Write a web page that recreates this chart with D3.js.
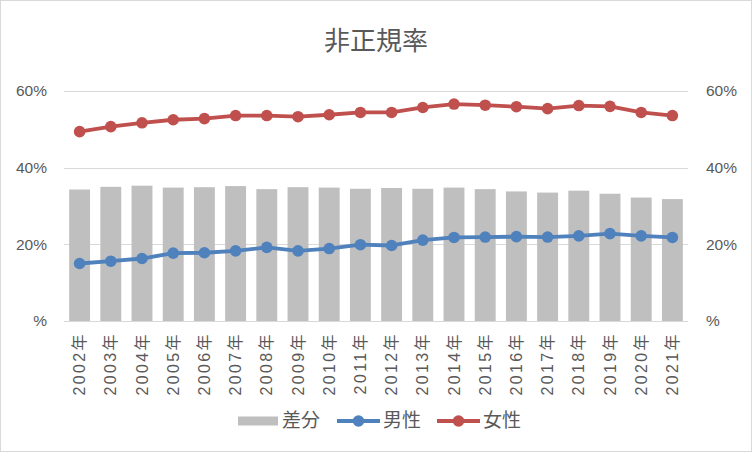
<!DOCTYPE html>
<html>
<head>
<meta charset="utf-8">
<script src="https://cdn.jsdelivr.net/npm/d3@7"></script>
<style>
  body { margin: 0; background: #fff; }
  svg { display: block; font-family: "Noto Sans CJK JP", "DejaVu Sans", sans-serif; }
</style>
</head>
<body>
<script>
const years = ["2002年","2003年","2004年","2005年","2006年","2007年","2008年","2009年","2010年","2011年",
  "2012年","2013年","2014年","2015年","2016年","2017年","2018年","2019年","2020年","2021年"];
const male = [15.0,15.6,16.3,17.7,17.8,18.3,19.2,18.3,18.9,19.9,19.7,21.1,21.8,21.9,22.0,21.9,22.2,22.8,22.2,21.8];
const female = [49.4,50.7,51.7,52.5,52.8,53.6,53.6,53.3,53.8,54.4,54.4,55.7,56.6,56.3,55.9,55.4,56.2,56.0,54.4,53.6];
const diff = [34.3,35.0,35.3,34.8,34.9,35.2,34.4,34.9,34.8,34.5,34.7,34.5,34.8,34.4,33.8,33.5,34.0,33.2,32.2,31.8];
const yTicks = [0, 20, 40, 60];

const width = 752, height = 452;
const margin = { top: 91, right: 64, bottom: 131, left: 64 };
const textColor = "#595959";

const svg = d3.select("body").append("svg")
    .attr("width", width)
    .attr("height", height);

svg.append("rect")
    .attr("x", 0.5).attr("y", 0.5)
    .attr("width", width - 1).attr("height", height - 1)
    .attr("fill", "#fff")
    .attr("stroke", "#d9d9d9");

const x = d3.scaleBand()
    .domain(years)
    .range([margin.left, width - margin.right])
    .paddingInner(0.33)
    .paddingOuter(0.165);

const y = d3.scaleLinear()
    .domain([0, 60])
    .range([height - margin.bottom, margin.top]);

const fmt = d => d === 0 ? "%" : d + "%";

// gridlines
svg.append("g")
    .selectAll("line")
    .data(yTicks)
    .join("line")
    .attr("x1", margin.left)
    .attr("x2", width - margin.right)
    .attr("y1", d => Math.round(y(d)) + 0.5)
    .attr("y2", d => Math.round(y(d)) + 0.5)
    .attr("stroke", "#d9d9d9")
    .attr("stroke-width", 1);

// left / right axes
const axisL = svg.append("g")
    .attr("transform", `translate(${margin.left - 17},0)`)
    .call(d3.axisLeft(y).tickValues(yTicks).tickFormat(fmt).tickSize(0).tickPadding(0));
const axisR = svg.append("g")
    .attr("transform", `translate(${width - margin.right + 18},0)`)
    .call(d3.axisRight(y).tickValues(yTicks).tickFormat(fmt).tickSize(0).tickPadding(0));
[axisL, axisR].forEach(a => {
    a.select(".domain").remove();
    a.selectAll("text")
        .attr("fill", textColor)
        .style("font-size", "15.5px")
        .style("font-family", "Arial, 'Liberation Sans', sans-serif");
});

// bars
svg.append("g")
    .selectAll("rect")
    .data(diff)
    .join("rect")
    .attr("x", (d, i) => x(years[i]))
    .attr("width", x.bandwidth())
    .attr("y", d => y(d))
    .attr("height", d => y(0) - y(d))
    .attr("fill", "#bfbfbf");

// x labels
svg.append("g")
    .attr("transform", `translate(0,${height - margin.bottom})`)
    .call(d3.axisBottom(x).tickSize(0))
    .call(g => g.select(".domain").remove())
    .selectAll("text")
    .attr("transform", "rotate(-90)")
    .attr("text-anchor", "end")
    .attr("x", -11)
    .attr("y", 0)
    .attr("dy", "0.35em")
    .attr("fill", textColor)
    .style("font-size", "16px")
    .style("letter-spacing", "2.4px")
    .style("font-family", "Arial, 'Liberation Sans', 'Noto Sans CJK JP', sans-serif");

const cx = i => x(years[i]) + x.bandwidth() / 2;
const line = d3.line().x((d, i) => cx(i)).y(d => y(d));

const series = [
    { name: "男性", values: male, color: "#4f81bd" },
    { name: "女性", values: female, color: "#c0504d" }
];

series.forEach(s => {
    svg.append("path")
        .datum(s.values)
        .attr("fill", "none")
        .attr("stroke", s.color)
        .attr("stroke-width", 3.8)
        .attr("stroke-linejoin", "round")
        .attr("d", line);
    svg.append("g")
        .selectAll("circle")
        .data(s.values)
        .join("circle")
        .attr("cx", (d, i) => cx(i))
        .attr("cy", d => y(d))
        .attr("r", 5.8)
        .attr("fill", s.color);
});

// title
svg.append("text")
    .attr("x", width / 2)
    .attr("y", 50)
    .attr("text-anchor", "middle")
    .attr("fill", textColor)
    .style("font-size", "26px")
    .text("非正規率");

// legend
const legend = svg.append("g").attr("transform", "translate(0,421)");
legend.append("rect")
    .attr("x", 238).attr("y", -4.5)
    .attr("width", 40).attr("height", 9)
    .attr("fill", "#bfbfbf");
legend.append("text")
    .attr("x", 282).attr("y", 6)
    .attr("fill", textColor).style("font-size", "19px")
    .text("差分");
const legendLines = [
    { x0: 337, s: series[0] },
    { x0: 437, s: series[1] }
];
legendLines.forEach(l => {
    legend.append("line")
        .attr("x1", l.x0).attr("x2", l.x0 + 43)
        .attr("stroke", l.s.color).attr("stroke-width", 3.8);
    legend.append("circle")
        .attr("cx", l.x0 + 21.5).attr("r", 5.8).attr("fill", l.s.color);
    legend.append("text")
        .attr("x", l.x0 + 46).attr("y", 6)
        .attr("fill", textColor).style("font-size", "19px")
        .text(l.s.name);
});
</script>
</body>
</html>
